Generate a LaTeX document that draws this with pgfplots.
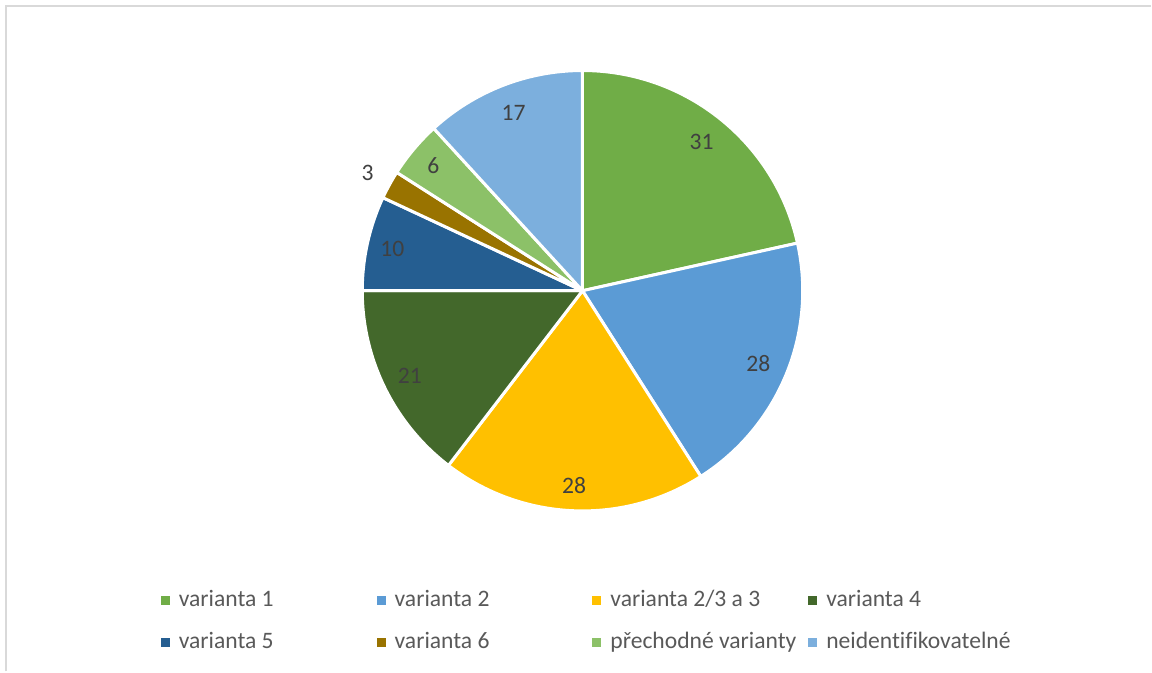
\documentclass[border=0pt]{standalone}
\usepackage{pgfplots}
\pgfplotsset{compat=1.18}
\usepackage{pgfplotstable}
\usepackage{fontspec}
\setmainfont{Carlito}[Ligatures=NoCommon]
\definecolor{c0}{HTML}{70AD47}
\definecolor{c1}{HTML}{5B9BD5}
\definecolor{c2}{HTML}{FFC000}
\definecolor{c3}{HTML}{43682B}
\definecolor{c4}{HTML}{255E91}
\definecolor{c5}{HTML}{997300}
\definecolor{c6}{HTML}{8CC168}
\definecolor{c7}{HTML}{7CAFDD}
\definecolor{labelgray}{HTML}{404040}
\definecolor{legendgray}{HTML}{595959}
\definecolor{framegray}{HTML}{D9D9D9}
\newcommand\labfont{\fontsize{11.8}{14}\selectfont}
\pgfplotstableread{
v lr
31 0.87
28 0.87
28 0.89
21 0.88
10 0.89
3 1.12
6 0.89
17 0.87
}\piedata
\begin{document}
\begin{tikzpicture}
\begin{axis}[
  x=0.5pt, y=0.5pt, xmin=0, xmax=1152, ymin=0, ymax=672,
  scale only axis, hide axis, clip=false,
  legend columns=4,
  legend style={at={(axis cs:161,49.5)}, anchor=west, draw=none, fill=none,
    inner sep=0pt, outer sep=0pt, row sep=9pt,
    nodes={inner sep=0pt, text height=9pt, text depth=3pt, anchor=west},
    /tikz/every odd column/.append style={column sep=4.5pt},
    font=\labfont, text=legendgray},
  legend image code/.code={\fill[#1, draw=none] (0pt,-2.25pt) rectangle (4.5pt,2.25pt);},
]
\path (axis cs:0,0) rectangle (axis cs:1152,672);
\draw[color=framegray, line width=1pt] (axis cs:6.5,0) -- (axis cs:6.5,666) -- (axis cs:1152,666);
\def\startang{90}
\pgfplotsforeachungrouped \i in {0,...,7}{%
  \pgfplotstablegetelem{\i}{v}\of\piedata \let\val\pgfplotsretval
  \pgfplotstablegetelem{\i}{lr}\of\piedata \let\lr\pgfplotsretval
  \pgfmathsetmacro\endang{\startang-\val*360/144}
  \pgfmathsetmacro\midang{(\startang+\endang)/2}
  \pgfmathsetmacro\labr{109.5*\lr}
  \edef\tmp{\noexpand\filldraw[fill=c\i, draw=white, line width=1.5pt, line join=round] (axis cs:583,381) -- ++(\startang:110.2pt) arc[start angle=\startang, end angle=\endang, radius=110.2pt] -- cycle;
  \noexpand\path (axis cs:583,381) ++(\midang:\labr pt) node[text=labelgray, font=\noexpand\labfont, inner sep=0pt] {\val};}%
  \tmp
  \global\let\startang\endang
}
\addlegendimage{fill=c0}\addlegendentry{\makebox[99pt][l]{varianta 1}}
\addlegendimage{fill=c1}\addlegendentry{\makebox[99pt][l]{varianta 2}}
\addlegendimage{fill=c2}\addlegendentry{\makebox[99pt][l]{varianta 2/3 a 3}}
\addlegendimage{fill=c3}\addlegendentry{\makebox[99pt][l]{varianta 4}}
\addlegendimage{fill=c4}\addlegendentry{\makebox[99pt][l]{varianta 5}}
\addlegendimage{fill=c5}\addlegendentry{\makebox[99pt][l]{varianta 6}}
\addlegendimage{fill=c6}\addlegendentry{\makebox[99pt][l]{přechodné varianty}}
\addlegendimage{fill=c7}\addlegendentry{\makebox[99pt][l]{neidentifikovatelné}}
\end{axis}
\end{tikzpicture}
\end{document}
